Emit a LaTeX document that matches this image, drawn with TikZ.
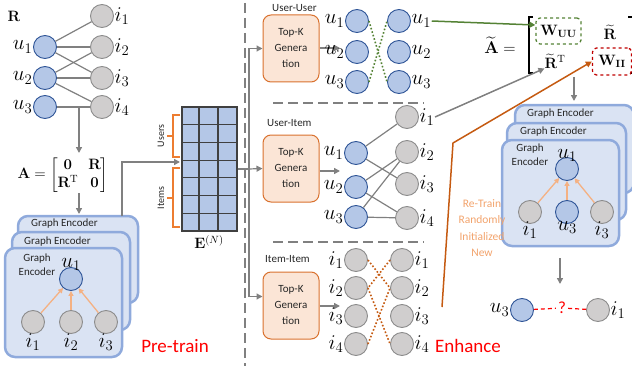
\RequirePackage{fix-cm}
\documentclass[tikz,border=0pt]{standalone}
\usepackage{amsmath}
\usepackage[no-math]{fontspec}
\setmainfont{Carlito}
\usetikzlibrary{arrows.meta}
\definecolor{ublue}{HTML}{B4C7E7}
\definecolor{udark}{HTML}{2F5597}
\definecolor{igray}{HTML}{D0CECE}
\definecolor{idark}{HTML}{8C8C8C}
\definecolor{egray}{HTML}{808080}
\definecolor{encfill}{HTML}{DAE3F3}
\definecolor{encdraw}{HTML}{8FAADC}
\definecolor{lorange}{HTML}{F4B183}
\definecolor{rtorange}{HTML}{F2A36C}
\definecolor{tkfill}{HTML}{FBE5D6}
\definecolor{tkdraw}{HTML}{D9712E}
\definecolor{dorange}{HTML}{C55A11}
\definecolor{gline}{HTML}{548235}
\definecolor{bord}{HTML}{ED7D31}
\definecolor{dred}{HTML}{C00000}
\tikzset{
 unode/.style={circle, minimum size=23pt, inner sep=0pt, fill=ublue, draw=udark, line width=0.9pt},
 inode/.style={circle, minimum size=23pt, inner sep=0pt, fill=igray, draw=idark, line width=0.9pt},
 lab/.style={font=\fontsize{21}{24}\selectfont, inner sep=0.5pt},
 lnk/.style={draw=egray, line width=1.2pt},
 arr/.style={draw=egray, line width=1.5pt, -{Triangle[length=6pt,width=6pt]}},
 enc/.style={fill=encfill, draw=encdraw, line width=2.5pt, rounded corners=10pt},
 enctext/.style={font=\fontsize{11}{14}\selectfont, text=black!85, inner sep=0pt, align=center},
 oarr/.style={draw=lorange, line width=1.3pt, -{Triangle[length=5pt,width=5pt]}},
 topk/.style={fill=tkfill, draw=tkdraw, line width=1pt, rounded corners=8pt, minimum width=56pt, minimum height=67pt, align=center, font=\fontsize{11}{16}\selectfont, text=black!85},
 sec/.style={font=\fontsize{11}{13}\selectfont, text=black!85, inner sep=0pt},
 sepline/.style={draw=egray, line width=2.2pt, dash pattern=on 10pt off 5pt},
 gdot/.style={draw=gline, line width=1.6pt, dotted},
 odot/.style={draw=dorange, line width=1.6pt, dotted},
 redbig/.style={font=\fontsize{19}{22}\selectfont, text=red, inner sep=0pt},
 mtx/.style={font=\fontsize{15}{18}\selectfont, inner sep=0pt},
 gridl/.style={draw=black!75, line width=1.1pt},
 brk/.style={draw=bord, line width=1.2pt},
}
\begin{document}
\begin{tikzpicture}[x=1pt,y=-1pt]
\useasboundingbox (0,0) rectangle (632,369);

% ---------- left bipartite graph ----------
\node[mtx] (Rlab) at (14,16) {$\mathbf{R}$};
\node[unode, label={[lab]left:$u_1$}] (a1) at (45,47) {};
\node[unode, label={[lab]left:$u_2$}] (a2) at (45,78) {};
\node[unode, label={[lab]left:$u_3$}] (a3) at (45,107) {};
\node[inode, label={[lab]right:$i_1$}] (b1) at (102,16) {};
\node[inode, label={[lab]right:$i_2$}] (b2) at (102,47) {};
\node[inode, label={[lab]right:$i_3$}] (b3) at (102,78) {};
\node[inode, label={[lab]right:$i_4$}] (b4) at (102,107) {};
\draw[lnk] (a1) -- (b1); \draw[lnk] (a1) -- (b2); \draw[lnk] (a1) -- (b3);
\draw[lnk] (a2) -- (b2); \draw[lnk] (a2) -- (b3); \draw[lnk] (a2) -- (b4);
\draw[lnk] (a3) -- (b4);
\coordinate (g1) at (79,107);
\coordinate (g2) at (79,153);
\draw[arr] (g1) -- (g2);

\node[mtx] (Amat) at (63,175) {$\mathbf{A}=\begin{bmatrix}\mathbf{0}&\mathbf{R}\\\mathbf{R}^{\mathrm{T}}&\mathbf{0}\end{bmatrix}$};
\coordinate (g3) at (79,193);
\coordinate (g4) at (79,214);
\draw[arr] (g3) -- (g4);

% ---------- left encoders ----------
\draw[enc] (18,216) rectangle (138,303);
\node[enctext, anchor=west] (encBt) at (31,224) {Graph Encoder};
\draw[enc] (12,232) rectangle (130,330);
\node[enctext, anchor=west] (encMt) at (24,242) {Graph Encoder};
\draw[enc] (5,248) rectangle (122,357);
\node[enctext] (encFt) at (37,265) {Graph\\Encoder};
\node[unode, label={[lab, label distance=-4pt]above:$u_1$}] (fu) at (71,279) {};
\node[inode, label={[lab, label distance=-1pt]below:$i_1$}] (fi1) at (33,322) {};
\node[inode, label={[lab, label distance=-1pt]below:$i_2$}] (fi2) at (71,322) {};
\node[inode, label={[lab, label distance=-1pt]below:$i_3$}] (fi3) at (106,322) {};
\draw[oarr] (fi1) -- (fu); \draw[oarr] (fi2) -- (fu); \draw[oarr] (fi3) -- (fu);

\coordinate (e1) at (122,216);
\coordinate (e2) at (180,162);
\draw[arr] (e1) |- (e2);

% ---------- embedding matrix ----------
\node[rectangle, fill=ublue, draw=black!75, line width=1.2pt, minimum width=55pt, minimum height=124pt, inner sep=0pt] (Emat) at (209.5,169) {};
\foreach \xx in {199,218} \draw[gridl] (\xx,107) -- (\xx,231);
\foreach \yy in {124.7,142.4,160.1,177.9,195.6,213.3} \draw[gridl] (182,\yy) -- (237,\yy);
\node[mtx] (Elab) at (209,242) {$\mathbf{E}^{(N)}$};
\draw[brk] (180,115) -- (173,115) -- (173,157) -- (180,157);
\draw[brk] (173,136) -- (167,136);
\draw[brk] (180,168) -- (173,168) -- (173,227) -- (180,227);
\draw[brk] (173,198) -- (167,198);
\node[sec, rotate=90, font=\fontsize{10}{12}\selectfont] (usl) at (161,136) {Users};
\node[sec, rotate=90, font=\fontsize{10}{12}\selectfont] (itl) at (161,198) {Items};

% ---------- dashed divider ----------
\draw[sepline] (245,3) -- (245,366);

% ---------- top-K boxes ----------
\node[topk] (tk1) at (291,48.5) {Top-K\\Genera\\tion};
\node[topk] (tk2) at (291,168.5) {Top-K\\Genera\\tion};
\node[topk] (tk3) at (291,305.5) {Top-K\\Genera\\tion};
\coordinate (t0) at (249,169);
\draw[lnk, line width=1.5pt] (Emat.east) -- (t0);
\draw[arr, line width=1.2pt] (t0) |- (tk1.west);
\draw[arr, line width=1.2pt] (t0) -- (tk2.west);
\draw[arr, line width=1.2pt] (t0) |- ([yshift=9pt]tk3.west);
\node[sec, anchor=west] (s1) at (272,8) {User-User};
\node[sec, anchor=west] (s2) at (267,123) {User-Item};
\node[sec, anchor=west] (s3) at (265,259) {Item-Item};
\coordinate (k1) at (340,48);
\coordinate (k2) at (340,171);
\coordinate (k3) at (340,306);
\draw[arr] (tk1.east |- k1) -- (k1);
\draw[arr] (tk2.east |- k2) -- (k2);
\draw[arr] (tk3.east |- k3) -- (k3);
\draw[sepline] (273,103) -- (424,103);
\draw[sepline] (273,242) -- (424,242);

% ---------- user-user ----------
\node[unode, label={[lab]left:$u_1$}] (p1) at (357,21) {};
\node[unode, label={[lab]left:$u_2$}] (p2) at (357,52) {};
\node[unode, label={[lab]left:$u_3$}] (p3) at (357,82) {};
\node[unode] (q1) at (399,21) {};
\node[unode, label={[lab]right:$u_2$}] (q2) at (399,52) {};
\node[unode, label={[lab]right:$u_3$}] (q3) at (399,82) {};
\node[lab, anchor=west] (q1l) at (q1.east) {$u_1$};
\draw[gdot] (p1.east) -- (q3.west);
\draw[gdot] (p3.east) -- (q1.west);

% ---------- user-item ----------
\node[unode, label={[lab]left:$u_1$}] (c1) at (356,153) {};
\node[unode, label={[lab]left:$u_2$}] (c2) at (356,187) {};
\node[unode, label={[lab]left:$u_3$}] (c3) at (356,217) {};
\node[inode] (d1) at (407,117) {};
\node[inode, label={[lab]right:$i_2$}] (d2) at (407,152) {};
\node[inode, label={[lab]right:$i_3$}] (d3) at (407,184) {};
\node[inode, label={[lab]right:$i_4$}] (d4) at (407,218) {};
\node[lab, anchor=west] (d1l) at (d1.east) {$i_1$};
\draw[lnk] (c1) -- (d1); \draw[lnk] (c1) -- (d3);
\draw[lnk] (c2) -- (d2); \draw[lnk] (c2) -- (d4);
\draw[lnk] (c3) -- (d2); \draw[lnk] (c3) -- (d4);

% ---------- item-item ----------
\node[inode, label={[lab]left:$i_1$}] (m1) at (356,260) {};
\node[inode, label={[lab]left:$i_2$}] (m2) at (356,288) {};
\node[inode, label={[lab]left:$i_3$}] (m3) at (356,316) {};
\node[inode, label={[lab]left:$i_4$}] (m4) at (356,344) {};
\node[inode, label={[lab]right:$i_1$}] (n1) at (402,260) {};
\node[inode, label={[lab]right:$i_2$}] (n2) at (402,288) {};
\node[inode, label={[lab]right:$i_3$}] (n3) at (402,316) {};
\node[inode, label={[lab]right:$i_4$}] (n4) at (402,344) {};
\draw[odot] (m1.east) -- (n2.west);
\draw[odot] (n1.west) -- (m2.east);
\draw[odot] (m2.east) -- (n4.west);
\draw[odot] (m4.east) -- (n2.west);

% ---------- enhanced adjacency ----------
\node[mtx, font=\fontsize{17}{20}\selectfont] (At) at (500,45) {$\widetilde{\mathbf{A}}=$};
\draw[line width=1.4pt] (533,17) -- (529,17) -- (529,73) -- (533,73);
\draw[line width=1.4pt] (628,17) -- (634,17) -- (634,73) -- (628,73);
\node[mtx, draw=gline, dashed, line width=1.3pt, rounded corners=4pt, minimum width=45pt, minimum height=26pt] (Wuu) at (558.5,31) {$\mathbf{W}_{\mathbf{UU}}$};
\node[mtx] (Rt) at (610,32) {$\widetilde{\mathbf{R}}$};
\node[mtx] (RT) at (555,61) {$\widetilde{\mathbf{R}}^{\mathrm{T}}$};
\node[mtx, fill=white, draw=dred, dashed, line width=1.3pt, rounded corners=4pt, minimum width=39pt, minimum height=27pt] (Wii) at (612,61.5) {$\mathbf{W}_{\mathbf{II}}$};

\draw[draw=gline, line width=1.5pt, -{Triangle[length=6pt,width=6pt]}] (q1l.east) -- ([yshift=6pt]Wuu.west);
\draw[arr] (d1l.east) -- (RT.south west);
\coordinate (o1) at (442,307);
\coordinate (o2) at (453,143);
\draw[draw=dorange, line width=1.5pt, -{Triangle[length=6pt,width=6pt]}] (o1) -- (o2) -- (Wii.west);
\coordinate (w1) at (574,77);
\coordinate (w2) at (574,101);
\draw[arr] (w1) -- (w2);

% ---------- right encoders ----------
\draw[enc] (515,105) rectangle (634,193);
\node[enctext, anchor=west] (rBt) at (527,114) {Graph Encoder};
\draw[enc] (507,123) rectangle (626,220);
\node[enctext, anchor=west] (rMt) at (520,132) {Graph Encoder};
\draw[enc] (502,140) rectangle (619,246);
\node[enctext] (rFt) at (530,155) {Graph\\Encoder};
\node[unode, label={[lab, label distance=-5pt]above:$u_1$}] (ru) at (567,169) {};
\node[inode, label={[lab, label distance=-3pt]below:$i_1$}] (rb1) at (530,212) {};
\node[unode, label={[lab, label distance=-3pt]below:$u_3$}] (rb2) at (567,212) {};
\node[inode, label={[lab, label distance=-3pt]below:$i_3$}] (rb3) at (602,212) {};
\draw[oarr] (rb1) -- (ru); \draw[oarr] (rb2) -- (ru); \draw[oarr] (rb3) -- (ru);
\node[align=center, text=rtorange, font=\fontsize{11.5}{16.4}\selectfont] (retrain) at (482,228) {Re-Train\\Randomly\\Initialized\\New};

\coordinate (v1) at (560,258);
\coordinate (v2) at (560,284);
\draw[arr] (v1) -- (v2);

\node[unode, label={[lab]left:$u_3$}] (bu) at (522,310) {};
\node[inode, label={[lab]right:$i_1$}] (bi) at (598,310) {};
\node[text=red, font=\fontsize{17}{20}\selectfont, inner sep=2pt] (qm) at (562,308) {?};
\draw[draw=red, line width=1.2pt, dash pattern=on 4pt off 3pt] (bu) -- (qm);
\draw[draw=red, line width=1.2pt, dash pattern=on 4pt off 3pt] (qm) -- (bi);

% ---------- phase labels ----------
\node[redbig] (pt) at (175,346) {Pre-train};
\node[redbig] (en) at (468,346) {Enhance};
\end{tikzpicture}
\end{document}
